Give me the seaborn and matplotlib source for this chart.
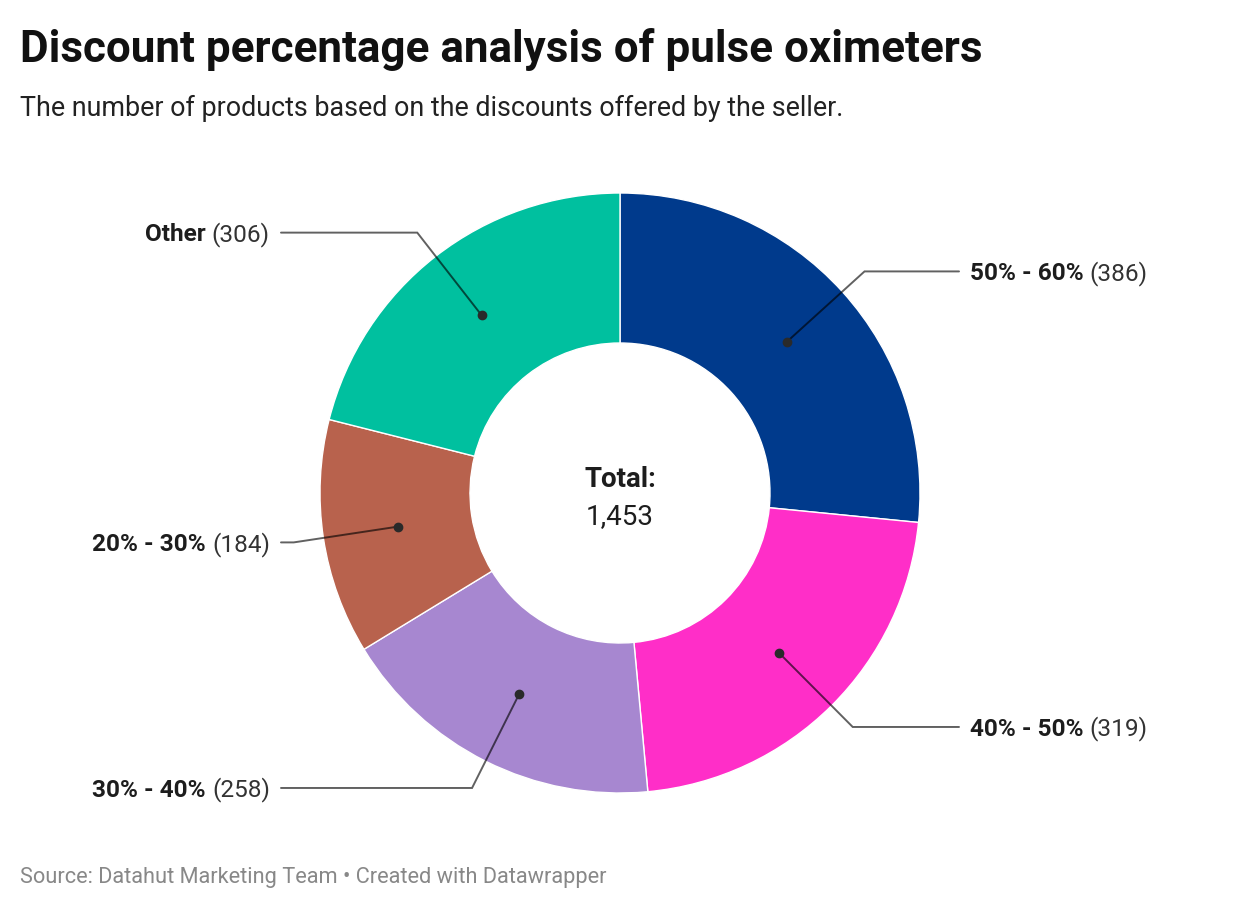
"""Donut chart: discount percentage analysis of pulse oximeters."""
import numpy as np
import seaborn as sns
import matplotlib.pyplot as plt

# data
categories = ["50% - 60%", "40% - 50%", "30% - 40%", "20% - 30%", "Other"]
counts = [386, 319, 258, 184, 306]
colors = ["#003a8c", "#ff2ec8", "#a787d0", "#b8624d", "#00c09f"]
total_label = "1,453"

sns.set_theme(style="white")
plt.rcParams["font.family"] = ["Roboto", "DejaVu Sans"]

W, H = 1240, 910
fig = plt.figure(figsize=(W / 100, H / 100), dpi=100)
cx, cy, R = 620, 493, 300
ax = fig.add_axes([(cx - R) / W, (H - cy - R) / H, 2 * R / W, 2 * R / H])

pal = sns.color_palette(colors)
wedges, _ = ax.pie(
    counts, colors=pal, startangle=90, counterclock=False, radius=1,
    wedgeprops=dict(width=0.5, edgecolor="white", linewidth=1),
)
ax.set_xlim(-1, 1)
ax.set_ylim(-1, 1)
ax.axis("off")

ax.text(0, 0.02, "Total:", ha="center", va="baseline", fontsize=20,
        fontweight="bold", color="#1d1d1d")
ax.text(0, -0.103, total_label, ha="center", va="baseline", fontsize=20,
        color="#1d1d1d")

renderer = fig.canvas.get_renderer()
lab_fs = 17.6
for w, cat, n in zip(wedges, categories, counts):
    ang = np.deg2rad((w.theta1 + w.theta2) / 2)
    ux, uy = np.cos(ang), np.sin(ang)
    dx, dy = 0.75 * ux, 0.75 * uy
    ex, ey = 1.1 * ux, 1.1 * uy
    side = 1 if ux > 0 else -1
    hx = side * 1.13
    ax.plot([dx, ex, hx], [dy, ey, ey], color="black", alpha=0.62, lw=1.4,
            clip_on=False, solid_joinstyle="miter")
    ax.plot(dx, dy, "o", color="#2a2a2a", ms=6, clip_on=False)
    tx = side * 1.167
    ty = ey - 0.029
    if side > 0:
        t1 = ax.text(tx, ty, cat, ha="left", va="baseline", fontsize=lab_fs,
                     fontweight="bold", color="#1d1d1d")
        bb = t1.get_window_extent(renderer)
        x2 = ax.transData.inverted().transform((bb.x1 + 6, 0))[0]
        ax.text(x2, ty, f"({n})", ha="left", va="baseline", fontsize=lab_fs,
                color="#333333")
    else:
        t2 = ax.text(tx, ty, f"({n})", ha="right", va="baseline", fontsize=lab_fs,
                     color="#333333")
        bb = t2.get_window_extent(renderer)
        x1 = ax.transData.inverted().transform((bb.x0 - 6, 0))[0]
        ax.text(x1, ty, cat, ha="right", va="baseline", fontsize=lab_fs,
                fontweight="bold", color="#1d1d1d")

fig.text(20 / W, 1 - 62 / H, "Discount percentage analysis of pulse oximeters",
         ha="left", va="baseline", fontsize=31.7, fontweight="bold", color="#111111")
fig.text(20 / W, 1 - 116 / H,
         "The number of products based on the discounts offered by the seller.",
         ha="left", va="baseline", fontsize=19.4, color="#222222")
fig.text(20 / W, 1 - 883 / H,
         "Source: Datahut Marketing Team \u2022 Created with Datawrapper",
         ha="left", va="baseline", fontsize=15.7, color="#888888")

fig.savefig("out.png", dpi=100, facecolor="white")
